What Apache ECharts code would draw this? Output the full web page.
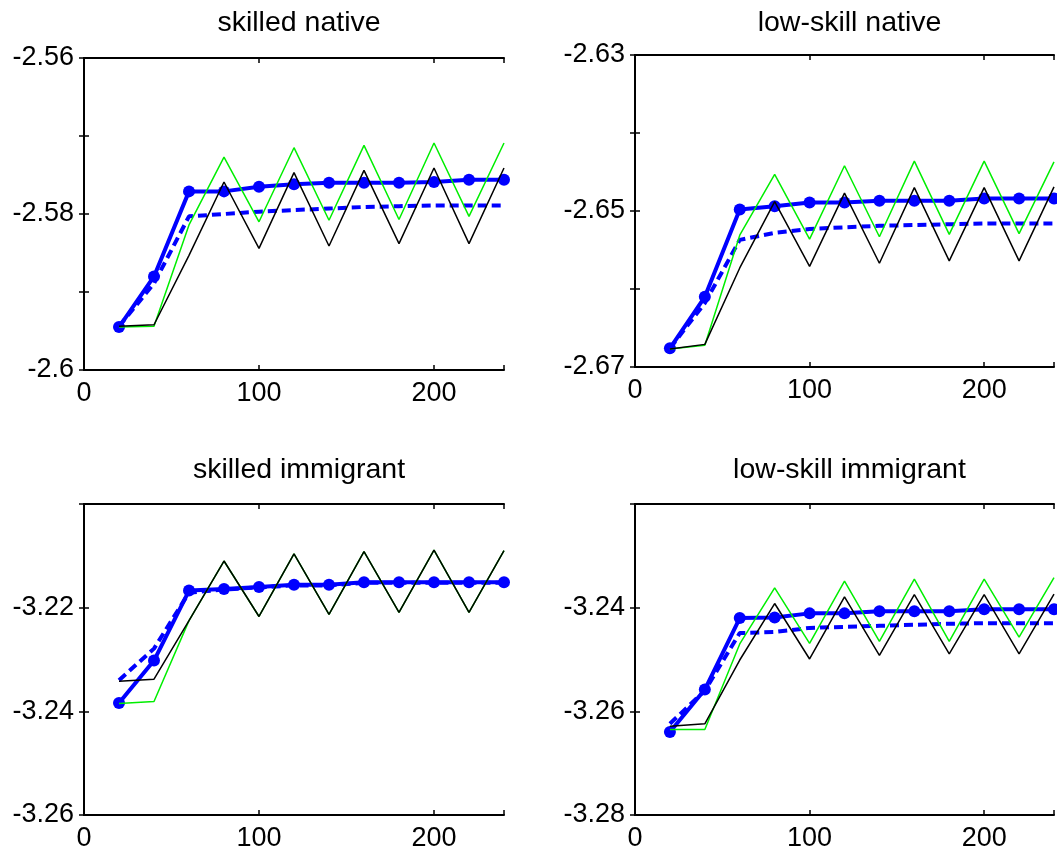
<!DOCTYPE html>
<html>
<head>
<meta charset="utf-8">
<script src="https://cdn.jsdelivr.net/npm/echarts@6/dist/echarts.min.js"></script>
<style>
  html, body { margin: 0; padding: 0; background: #fff; }
  #chart { width: 1057px; height: 857px; }
</style>
</head>
<body>
<div id="chart"></div>
<script>
// 横轴：期数
var periods = [20, 40, 60, 80, 100, 120, 140, 160, 180, 200, 220, 240];

var titles = ['skilled native', 'low-skill native', 'skilled immigrant', 'low-skill immigrant'];

// skilled native
var snSolid = [-2.5945, -2.5880, -2.5771, -2.5771, -2.5765, -2.5762, -2.5760, -2.5760, -2.5760, -2.5759, -2.5756, -2.5756];
var snDash = [-2.5944, -2.5889, -2.5803, -2.5800, -2.5797, -2.5795, -2.5793, -2.5791, -2.5790, -2.5789, -2.5789, -2.5789];
var snGreen = [-2.5945, -2.5944, -2.5814, -2.5727, -2.5810, -2.5715, -2.5808, -2.5712, -2.5807, -2.5709, -2.5803, -2.5709];
var snBlack = [-2.5944, -2.5942, -2.5853, -2.5759, -2.5844, -2.5747, -2.5841, -2.5744, -2.5838, -2.5741, -2.5838, -2.5741];

// low-skill native
var lnSolid = [-2.6676, -2.6610, -2.6498, -2.6494, -2.6489, -2.6489, -2.6487, -2.6487, -2.6487, -2.6484, -2.6484, -2.6484];
var lnDash = [-2.6676, -2.6618, -2.6537, -2.6528, -2.6523, -2.6521, -2.6519, -2.6518, -2.6517, -2.6516, -2.6516, -2.6516];
var lnGreen = [-2.6677, -2.6672, -2.6531, -2.6453, -2.6536, -2.6442, -2.6533, -2.6436, -2.6530, -2.6436, -2.6529, -2.6437];
var lnBlack = [-2.6677, -2.6671, -2.6573, -2.6488, -2.6571, -2.6477, -2.6567, -2.6470, -2.6564, -2.6470, -2.6564, -2.6469];

// skilled immigrant
var siSolid = [-3.2384, -3.2302, -3.2167, -3.2164, -3.2160, -3.2156, -3.2156, -3.2151, -3.2151, -3.2151, -3.2151, -3.2151];
var siDash = [-3.2340, -3.2279, -3.2171, -3.2165, -3.2161, -3.2157, -3.2157, -3.2152, -3.2152, -3.2152, -3.2152, -3.2152];
var siGreen = [-3.2385, -3.2381, -3.2225, -3.2110, -3.2217, -3.2096, -3.2213, -3.2092, -3.2209, -3.2089, -3.2209, -3.2090];
var siBlack = [-3.2342, -3.2338, -3.2225, -3.2110, -3.2217, -3.2096, -3.2213, -3.2092, -3.2209, -3.2089, -3.2209, -3.2090];

// low-skill immigrant
var liSolid = [-3.2640, -3.2558, -3.2420, -3.2419, -3.2411, -3.2411, -3.2407, -3.2407, -3.2407, -3.2403, -3.2403, -3.2403];
var liDash = [-3.2624, -3.2560, -3.2449, -3.2447, -3.2439, -3.2437, -3.2435, -3.2433, -3.2431, -3.2430, -3.2430, -3.2430];
var liGreen = [-3.2635, -3.2635, -3.2470, -3.2362, -3.2469, -3.2349, -3.2465, -3.2345, -3.2465, -3.2345, -3.2457, -3.2342];
var liBlack = [-3.2629, -3.2624, -3.2501, -3.2392, -3.2499, -3.2379, -3.2492, -3.2375, -3.2489, -3.2375, -3.2489, -3.2374];

// y轴范围
var yMins = [-2.60, -2.67, -3.26, -3.28];
var yMaxs = [-2.56, -2.63, -3.20, -3.22];
var yStep = [0.01, 0.01, 0.02, 0.02];

var panelData = [
    [snSolid, snDash, snGreen, snBlack],
    [lnSolid, lnDash, lnGreen, lnBlack],
    [siSolid, siDash, siGreen, siBlack],
    [liSolid, liDash, liGreen, liBlack]
];

var grids = [
    { left: 84, top: 58, width: 420, height: 312 },
    { left: 635, top: 55, width: 419, height: 312 },
    { left: 84, top: 504, width: 420, height: 311 },
    { left: 635, top: 504, width: 419, height: 311 }
];

var font = 'Liberation Sans, Arial, sans-serif';

function pair(xs, ys) {
    var out = [];
    for (var i = 0; i < xs.length; i++) out.push([xs[i], ys[i]]);
    return out;
}

function yLabel(p) {
    return function (v) {
        var k = Math.round(v * 100) - Math.round(yMins[p] * 100);
        if (p >= 2 && Math.abs(v - yMaxs[p]) < 1e-9) return '';   // 顶部不标
        if (p < 2 && k % 2 !== 0) return '';                          // 隔一个标
        return String(+v.toFixed(2));
    };
}

var xAxes = [], yAxes = [], series = [], titleList = [];
for (var p = 0; p < 4; p++) {
    var tickStyle = { show: true, inside: true, length: 5, lineStyle: { color: '#000', width: 1.5 } };
    var lineStyle = { show: true, lineStyle: { color: '#000', width: 2 } };
    xAxes.push({
        type: 'value', gridIndex: p, min: 0, max: 240, interval: 100, position: 'bottom',
        axisLine: lineStyle, axisTick: tickStyle, splitLine: { show: false },
        axisLabel: {
            fontSize: 27, color: '#000', fontFamily: font, margin: 10,
            formatter: function (v) { return v === 240 ? '' : String(v); }
        }
    });
    xAxes.push({
        type: 'value', gridIndex: p, min: 0, max: 240, interval: 100, position: 'top',
        axisLine: lineStyle, axisTick: tickStyle, splitLine: { show: false },
        axisLabel: { show: false }
    });
    yAxes.push({
        type: 'value', gridIndex: p, min: yMins[p], max: yMaxs[p], interval: yStep[p], position: 'left',
        axisLine: lineStyle, axisTick: tickStyle, splitLine: { show: false },
        axisLabel: { fontSize: 27, color: '#000', fontFamily: font, margin: 10, formatter: yLabel(p) }
    });
    yAxes.push({
        type: 'value', gridIndex: p, min: yMins[p], max: yMaxs[p], interval: yStep[p], position: 'right',
        axisLine: lineStyle, axisTick: tickStyle, splitLine: { show: false },
        axisLabel: { show: false }
    });

    var d = panelData[p];
    series.push({
        type: 'line', xAxisIndex: 2 * p, yAxisIndex: 2 * p, data: pair(periods, d[0]),
        symbol: 'circle', symbolSize: 12, itemStyle: { color: '#0000ff' },
        lineStyle: { color: '#0000ff', width: 4 }, z: 2
    });
    series.push({
        type: 'line', xAxisIndex: 2 * p, yAxisIndex: 2 * p, data: pair(periods, d[1]),
        showSymbol: false, lineStyle: { color: '#0000ff', width: 4, type: [9, 5] }, z: 3
    });
    series.push({
        type: 'line', xAxisIndex: 2 * p, yAxisIndex: 2 * p, data: pair(periods, d[2]),
        showSymbol: false, lineStyle: { color: '#00ee00', width: 1.5 }, z: 4
    });
    series.push({
        type: 'line', xAxisIndex: 2 * p, yAxisIndex: 2 * p, data: pair(periods, d[3]),
        showSymbol: false, lineStyle: { color: '#000000', width: 1.5 }, z: 5
    });

    titleList.push({
        text: titles[p],
        left: grids[p].left + grids[p].width / 2,
        textAlign: 'center',
        top: p < 2 ? 4 : 451,
        textStyle: { fontSize: 28.5, fontWeight: 'normal', color: '#000', fontFamily: font }
    });
}

var myChart = echarts.init(document.getElementById('chart'));
myChart.setOption({
    animation: false,
    backgroundColor: '#fff',
    title: titleList,
    grid: grids,
    xAxis: xAxes,
    yAxis: yAxes,
    series: series
});
</script>
</body>
</html>
